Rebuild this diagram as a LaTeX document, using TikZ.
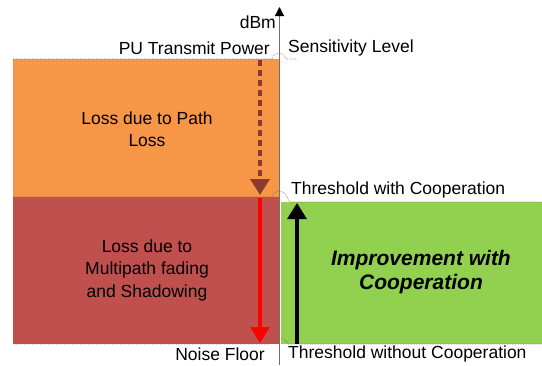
\documentclass[tikz,border=0pt]{standalone}
\usepackage{fontspec}
\setmainfont{Liberation Sans}
\usetikzlibrary{arrows.meta}
\definecolor{lossorange}{HTML}{F79646}
\definecolor{lossred}{HTML}{C0504D}
\definecolor{gaingreen}{HTML}{92D050}
\definecolor{darkbrown}{HTML}{8B3A30}
\definecolor{axisgray}{HTML}{707070}
\begin{document}
\begin{tikzpicture}[x=1pt,y=-1pt,
  lbl/.style={font=\fontsize{17.5}{22.5}\selectfont, inner sep=0pt, align=center},
  biglbl/.style={font=\fontsize{21}{24}\selectfont\bfseries\itshape, inner sep=0pt, align=center},
  hop/.style={draw=axisgray, densely dotted, line width=0.6pt},
  bigarrow/.style={line width=3.2pt, -{Triangle[width=19pt,length=16pt]}}]
\useasboundingbox (0,0) rectangle (542,365);
% bands
\fill[lossorange] (13,59) rectangle (279,197);
\fill[lossred] (13,197) rectangle (279,344);
\fill[gaingreen] (281,202) rectangle (542,344);
% dotted level lines with hops over the axis
\draw[hop] (13,59) -- (272,59) .. controls (274,51) and (284,51) .. (286,59) -- (298,59);
\draw[hop] (13,197) -- (272,197) .. controls (274,189) and (284,189) .. (287,197) -- (290,202) -- (542,202);
\draw[hop] (13,344) -- (270,344) .. controls (273,336) and (285,336) .. (288,344) -- (542,344);
% axis
\coordinate (abot) at (279.5,365);
\coordinate (atop) at (279.5,7);
\draw[axisgray, line width=1.3pt, -{Triangle[width=9pt,length=9pt,black]}] (abot) -- (atop);
% arrows
\coordinate (pu) at (260,60);
\coordinate (thc) at (260,195);
\coordinate (thc2) at (260,198);
\coordinate (nf) at (260,343);
\coordinate (gb) at (297,344);
\coordinate (gt) at (297,203);
\draw[bigarrow, darkbrown, dash pattern=on 6pt off 4pt] (pu) -- (thc);
\draw[bigarrow, red] (thc2) -- (nf);
\draw[bigarrow, black] (gb) -- (gt);
% labels
\node[lbl, anchor=east] (dbm) at (276,22) {dBm};
\node[lbl, anchor=east] (put) at (270,48) {PU Transmit Power};
\node[lbl, anchor=west] (sens) at (288,48) {Sensitivity Level};
\node[lbl] (path) at (147,129) {Loss due to Path\\Loss};
\node[lbl, anchor=west] (thw) at (291,190) {Threshold with Cooperation};
\node[lbl] (multi) at (147,270) {Loss due to\\Multipath fading\\and Shadowing};
\node[biglbl] (impr) at (421,272) {Improvement with\\Cooperation};
\node[lbl, anchor=east] (noise) at (265,354) {Noise Floor};
\node[lbl, anchor=west] (thwo) at (288,354) {Threshold without Cooperation};
\end{tikzpicture}
\end{document}
